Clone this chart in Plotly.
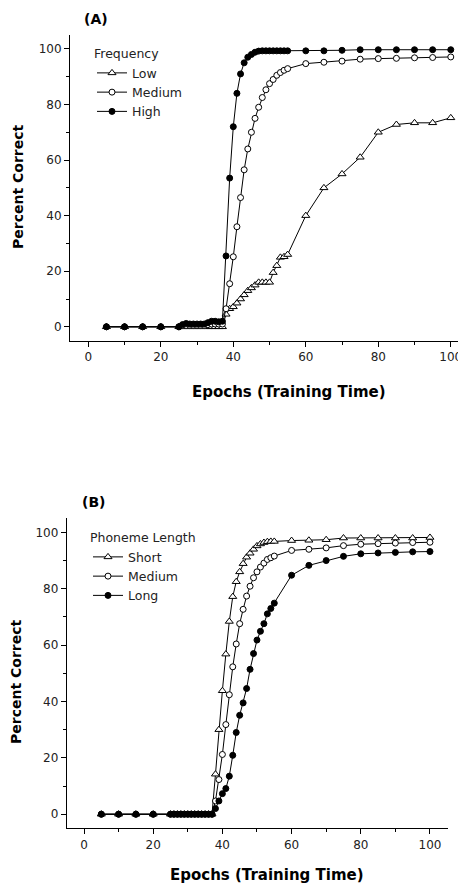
import plotly.graph_objects as go

epochs = [5, 10, 15, 20, 25, 26, 27, 28, 29, 30, 31, 32, 33, 34, 35, 36, 37,
          38, 39, 40, 41, 42, 43, 44, 45, 46, 47, 48, 49, 50, 51, 52, 53, 54, 55,
          60, 65, 70, 75, 80, 85, 90, 95, 100]

# Panel A: Frequency
freq_low = [0, 0, 0, 0, 0, 0, 0, 0, 0, 0, 0, 0, 0, 0, 0, 0, 0,
            4.5, 6.5, 7.2, 8.5, 10, 11.5, 13, 14, 15, 16, 16, 16, 16, 19.5, 22, 25, 25.2, 26,
            40, 50, 55, 61, 70, 72.8, 73.4, 73.4, 75.2]
freq_medium = [0, 0, 0, 0, 0, 0.5, 0.5, 0.5, 0.5, 0.5, 0.5, 0.5, 0.8, 1, 1, 1, 1,
               6.5, 15.5, 25.2, 36, 46.5, 56.5, 64, 70, 75, 79, 82.5, 85.3, 87.5, 89, 90.5, 91.5, 92.3, 92.9,
               94.7, 95.2, 95.6, 96.3, 96.5, 96.6, 96.8, 96.9, 97.1]
freq_high = [0, 0, 0, 0, 0, 0.8, 1.2, 1, 1, 1, 1, 1, 1.5, 2, 2, 1.8, 2,
             25.5, 53.5, 72, 84, 91, 95, 97, 98, 98.8, 99.2, 99.3, 99.3, 99.3, 99.3, 99.3, 99.3, 99.3, 99.3,
             99.3, 99.3, 99.5, 99.7, 99.7, 99.7, 99.7, 99.7, 99.7]

# Panel B: Phoneme Length
len_short = [0, 0, 0, 0, 0, 0, 0, 0, 0, 0, 0, 0, 0, 0, 0, 0, 0,
             14.2, 30, 43.8, 56.8, 68.4, 77.2, 82.5, 86, 88.9, 91.2, 92.6, 94, 95.2, 95.9, 96.4, 96.7, 96.8, 96.8,
             97.1, 97.2, 97.4, 98, 98, 98, 98, 98, 98.2]
len_medium = [0, 0, 0, 0, 0, 0, 0, 0, 0, 0, 0, 0, 0, 0, 0, 0, 0,
              4.7, 12.3, 21.2, 31.8, 42.4, 52.3, 60.4, 67.6, 72.7, 77.4, 80.9, 83.9, 86, 87.7, 89.1, 90.4, 91, 91.6,
              93.6, 94, 94.5, 95.3, 95.8, 96, 96.2, 96.4, 96.5]
len_long = [0, 0, 0, 0, 0, 0, 0, 0, 0, 0, 0, 0, 0, 0, 0, 0, 0,
            2, 4.7, 7.3, 9.1, 13.5, 20.9, 29, 35.1, 39.5, 44.6, 51.4, 57, 61.8, 64.9, 67.6, 71.1, 73, 74.9,
            84.8, 88.3, 90, 91.5, 92.4, 92.7, 92.9, 93.1, 93.2]

# page has an 8px body margin, so the figure is 8px smaller and all positions shifted by -8
W, H = 458, 876
FONT = "DejaVu Sans"

def px(x):
    return (x - 8) / W

def py(y):
    return 1 - (y - 8) / H

styles = [
    dict(symbol="triangle-up", color="white", size=7),
    dict(symbol="circle", color="white", size=6),
    dict(symbol="circle", color="black", size=6),
]

fig = go.Figure()

def add_series(name, y, st, xa, ya, legend):
    fig.add_trace(go.Scatter(
        x=epochs, y=y, name=name, mode="lines+markers",
        line=dict(color="black", width=1),
        marker=dict(symbol=st["symbol"], color=st["color"], size=st["size"],
                    line=dict(color="black", width=1)),
        xaxis=xa, yaxis=ya, legend=legend,
    ))

for name, y, st in zip(["Low", "Medium", "High"], [freq_low, freq_medium, freq_high], styles):
    add_series(name, y, st, "x", "y", "legend")
for name, y, st in zip(["Short", "Medium", "Long"], [len_short, len_medium, len_long], styles):
    add_series(name, y, st, "x2", "y2", "legend2")

axis_common = dict(
    showline=True, linecolor="black", linewidth=1, mirror=False,
    ticks="outside", ticklen=5, tickwidth=1, tickcolor="black",
    tick0=0, dtick=20, showgrid=False, zeroline=False,
    minor=dict(ticks="outside", ticklen=3, dtick=10, tick0=0, tickcolor="black", showgrid=False),
    tickfont=dict(family=FONT, size=12, color="#222"),
)

legend_font = dict(family=FONT, size=12.5, color="#222")

fig.update_layout(
    width=W, height=H,
    margin=dict(l=0, r=0, t=0, b=0),
    paper_bgcolor="white", plot_bgcolor="white",
    xaxis=dict(domain=[px(70), 1.0], range=[-5.05, 104.2], anchor="y", **axis_common),
    yaxis=dict(domain=[py(340.7), py(35)], range=[-5, 105], anchor="x", **axis_common),
    xaxis2=dict(domain=[px(66.7), px(448.3)], range=[-5, 105.3], anchor="y2", **axis_common),
    yaxis2=dict(domain=[py(828.3), py(518.3)], range=[-5, 105], anchor="x2", **axis_common),
    legend=dict(x=px(92), y=py(42), xanchor="left", yanchor="top",
                bgcolor="rgba(0,0,0,0)", font=legend_font,
                title=dict(text="Frequency", font=legend_font),
                tracegroupgap=0),
    legend2=dict(x=px(88), y=py(526), xanchor="left", yanchor="top",
                 bgcolor="rgba(0,0,0,0)", font=legend_font,
                 title=dict(text="Phoneme Length", font=legend_font),
                 tracegroupgap=0),
    showlegend=True,
)

annots = [
    dict(text="<b>(A)</b>", x=px(82), y=py(19), xanchor="left", yanchor="middle", size=14),
    dict(text="<b>(B)</b>", x=px(80), y=py(501.7), xanchor="left", yanchor="middle", size=14),
    dict(text="<b>Epochs (Training Time)</b>", x=px(289), y=py(392), xanchor="center", yanchor="middle", size=15),
    dict(text="<b>Epochs (Training Time)</b>", x=px(267), y=py(875), xanchor="center", yanchor="middle", size=15),
    dict(text="<b>Percent Correct</b>", x=px(18), y=py(187), xanchor="center", yanchor="middle", textangle=-90, size=14),
    dict(text="<b>Percent Correct</b>", x=px(16), y=py(682), xanchor="center", yanchor="middle", textangle=-90, size=14),
]
for a in annots:
    size = a.pop("size")
    fig.add_annotation(xref="paper", yref="paper", showarrow=False,
                       font=dict(family=FONT, size=size, color="black"), **a)

fig.write_html("out.html")
